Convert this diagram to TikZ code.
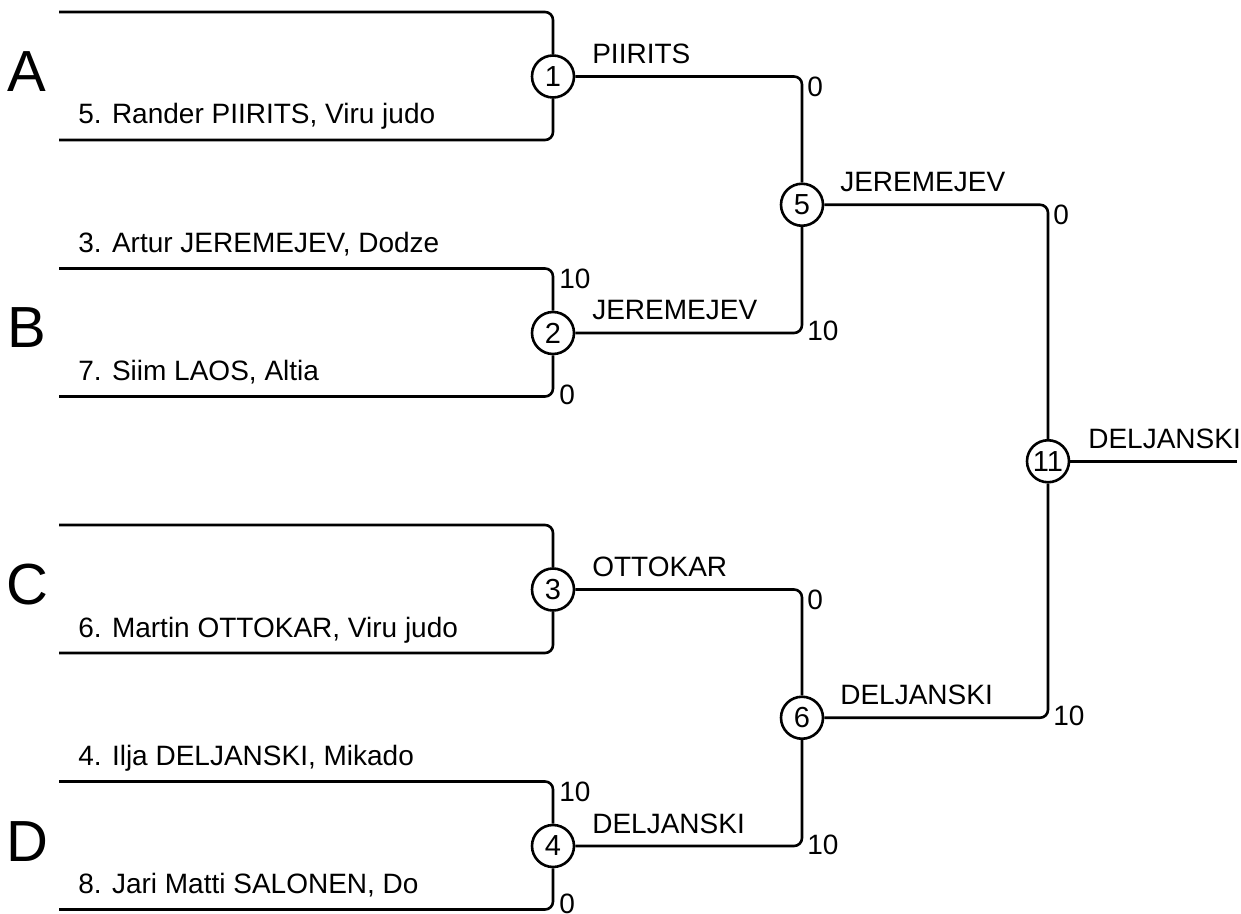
\documentclass[tikz,border=0pt]{standalone}
\usepackage{fontspec}
\setmainfont{Liberation Sans}

\def\psep{256.5}

\begin{document}
\begin{tikzpicture}[x=0.5pt,y=-0.5pt,line width=1.3pt,
    match/.style={draw,circle,fill=white,inner sep=0pt,minimum size=21pt,
      font=\fontsize{14.5}{16}\selectfont},
    entry/.style={anchor=base west,inner sep=0pt,font=\fontsize{14}{16}\selectfont},
    score/.style={anchor=base west,inner sep=0pt,font=\fontsize{14}{16}\selectfont},
    pool/.style={anchor=base,inner sep=0pt,font=\fontsize{29}{32}\selectfont},
    bracket/.style={rounded corners=4pt}]
    \useasboundingbox (0,0) rectangle (1241,914);

    \node[match] (m1) at (553,76.5+0*\psep) {1};
    \node[match] (m2) at (553,76.5+1*\psep) {2};
    \node[match] (m3) at (553,76.5+2*\psep) {3};
    \node[match] (m4) at (553,76.5+3*\psep) {4};
    \node[match] (m5) at (802,204.75) {5};
    \node[match] (m6) at (802,717.75) {6};
    \node[match] (m11) at (1048,461.25) {11};

    \node[pool] (pA) at (27,91.5+0*\psep) {A};
    \node[pool] (pB) at (27,91.5+1*\psep) {B};
    \node[pool] (pC) at (27,91.5+2*\psep) {C};
    \node[pool] (pD) at (27,91.5+3*\psep) {D};

    \coordinate (a1) at (59,12+0*\psep);
    \coordinate (a2) at (59,140+0*\psep);
    \coordinate (b1) at (59,12+1*\psep);
    \coordinate (b2) at (59,140+1*\psep);
    \coordinate (c1) at (59,12+2*\psep);
    \coordinate (c2) at (59,140+2*\psep);
    \coordinate (d1) at (59,12+3*\psep);
    \coordinate (d2) at (59,140+3*\psep);
    \coordinate (fin) at (1237,461.25);

    \draw[bracket] (a1) -| (m1);
    \draw[bracket] (a2) -| (m1);
    \draw[bracket] (b1) -| (m2);
    \draw[bracket] (b2) -| (m2);
    \draw[bracket] (c1) -| (m3);
    \draw[bracket] (c2) -| (m3);
    \draw[bracket] (d1) -| (m4);
    \draw[bracket] (d2) -| (m4);
    \draw[bracket] (m1) -| (m5);
    \draw[bracket] (m2) -| (m5);
    \draw[bracket] (m3) -| (m6);
    \draw[bracket] (m4) -| (m6);
    \draw[bracket] (m5) -| (m11);
    \draw[bracket] (m6) -| (m11);
    \draw (m11) -- (fin);

    \node[entry] (eA2) at (77,124+0*\psep) {5. Rander PIIRITS, Viru judo};
    \node[entry] (eB1) at (77,-4+1*\psep) {3. Artur JEREMEJEV, Dodze};
    \node[entry] (eB2) at (77,124+1*\psep) {7. Siim LAOS, Altia};
    \node[entry] (eC2) at (77,124+2*\psep) {6. Martin OTTOKAR, Viru judo};
    \node[entry] (eD1) at (77,-4+3*\psep) {4. Ilja DELJANSKI, Mikado};
    \node[entry] (eD2) at (77,124+3*\psep) {8. Jari Matti SALONEN, Do};

    \node[entry] (w1) at (591,63.5+0*\psep) {PIIRITS};
    \node[entry] (w2) at (591,63.5+1*\psep) {JEREMEJEV};
    \node[entry] (w3) at (591,63.5+2*\psep) {OTTOKAR};
    \node[entry] (w4) at (591,63.5+3*\psep) {DELJANSKI};
    \node[entry] (w5) at (839,191.75) {JEREMEJEV};
    \node[entry] (w6) at (839,704.75) {DELJANSKI};
    \node[entry] (w11) at (1087,448.25) {DELJANSKI};

    \node[score] (sB1) at (558,32+1*\psep) {10};
    \node[score] (sB2) at (558,148+1*\psep) {0};
    \node[score] (sD1) at (558,32+3*\psep) {10};
    \node[score] (sD2) at (558,913) {0};
    \node[score] (s15) at (806,96.5) {0};
    \node[score] (s25) at (806,341) {10};
    \node[score] (s36) at (806,609.5) {0};
    \node[score] (s46) at (806,854) {10};
    \node[score] (s511) at (1052,224.75) {0};
    \node[score] (s611) at (1052,725.75) {10};
\end{tikzpicture}
\end{document}
